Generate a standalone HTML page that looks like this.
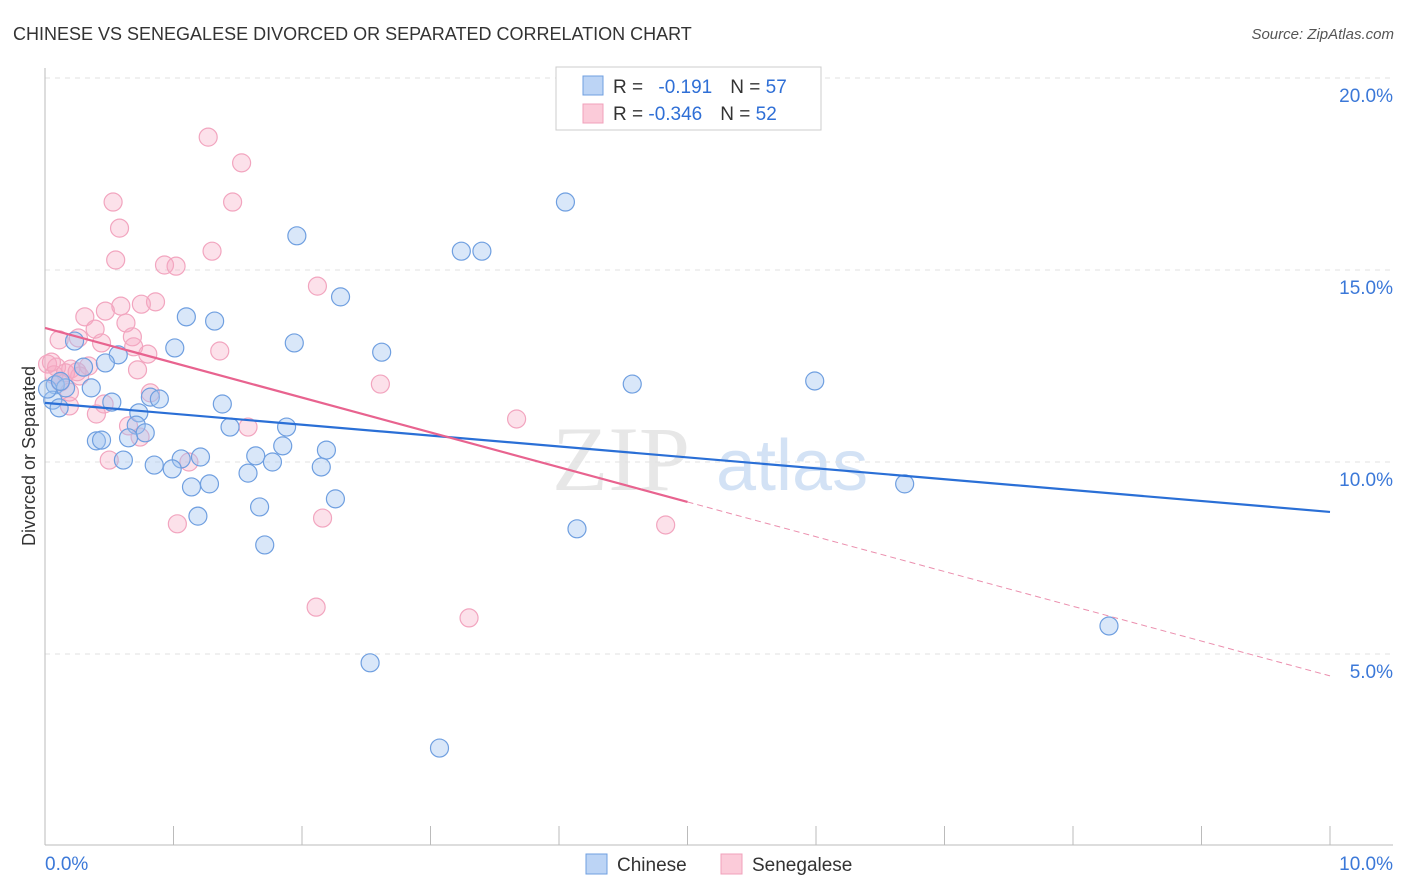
<!DOCTYPE html>
<html><head><meta charset="utf-8"><style>
body{margin:0;background:#fff;font-family:"Liberation Sans",sans-serif;}
svg{display:block}
</style></head><body>
<svg id="c" width="1406" height="892">
<text x="13" y="40" font-size="18" fill="#333">CHINESE VS SENEGALESE DIVORCED OR SEPARATED CORRELATION CHART</text>
<text x="1394" y="39" font-size="15" fill="#555" font-style="italic" text-anchor="end">Source: ZipAtlas.com</text>
<text x="35" y="456" font-size="18" fill="#333" text-anchor="middle" transform="rotate(-90 35 456)">Divorced or Separated</text>
<g><text x="552" y="490" font-size="92" fill="#d8d8d8" font-family="Liberation Serif,serif" opacity="0.6">ZIP</text><text x="716" y="490" font-size="72" fill="#b7d0ef" opacity="0.6">atlas</text></g>
<g id="grid"></g><g id="axes"></g><g id="pts"></g><g id="trend"></g>
<g>
<rect x="556" y="67" width="265" height="63" fill="#fff" stroke="#ccc"/>
<rect x="583" y="76" width="20" height="19" fill="#bcd4f5" stroke="#6f9fe0"/>
<rect x="583" y="104" width="20" height="19" fill="#fbcbd9" stroke="#f0a0bb"/>
<text x="613" y="93" font-size="19" fill="#333">R = <tspan fill="#2f6fd6" dx="10">-0.191</tspan><tspan fill="#333" dx="18">N = </tspan><tspan fill="#2f6fd6">57</tspan></text>
<text x="613" y="120" font-size="19" fill="#333">R = <tspan fill="#2f6fd6">-0.346</tspan><tspan fill="#333" dx="18">N = </tspan><tspan fill="#2f6fd6">52</tspan></text>
</g>
<g>
<rect x="586" y="854" width="21" height="20" fill="#bcd4f5" stroke="#6f9fe0"/>
<text x="617" y="871" font-size="19" fill="#333">Chinese</text>
<rect x="721" y="854" width="21" height="20" fill="#fbcbd9" stroke="#f0a0bb"/>
<text x="752" y="871" font-size="19" fill="#333">Senegalese</text>
</g>
</svg>
<script>
const xTicks=[0,1,2,3,4,5,6,7,8,9,10];
const yTicks=[5,10,15,20];
const yTickLabels=["5.0%","10.0%","15.0%","20.0%"];
const chineseX=[4.05,1.96,3.24,3.40,2.30,1.10,1.32,1.94,1.01,2.62,0.57,0.23,0.47,0.30,4.57,5.99,0.08,0.16,0.36,0.06,0.52,0.82,0.89,1.38,0.11,0.73,1.44,1.88,0.71,0.78,0.65,0.40,0.44,1.85,2.19,0.61,1.21,1.06,0.85,0.99,1.64,1.77,2.15,1.58,1.28,1.14,2.26,1.19,1.67,4.14,1.71,6.69,8.28,2.53,3.07,0.02,0.12];
const chineseY=[16.77,15.89,15.49,15.49,14.30,13.78,13.67,13.10,12.97,12.86,12.79,13.15,12.58,12.47,12.03,12.11,12.01,11.93,11.93,11.61,11.56,11.69,11.64,11.51,11.41,11.28,10.91,10.91,10.96,10.76,10.63,10.55,10.57,10.42,10.31,10.05,10.13,10.08,9.92,9.82,10.16,10.00,9.87,9.71,9.43,9.35,9.04,8.59,8.83,8.26,7.84,9.43,5.73,4.77,2.55,11.9,12.1];
const senegaleseX=[1.27,1.53,0.53,1.46,0.58,1.30,0.55,0.93,1.02,2.12,0.86,0.75,0.59,0.47,0.31,0.63,0.39,0.11,0.68,0.26,0.44,0.69,1.36,0.80,0.02,0.09,0.20,0.34,0.72,0.27,0.12,2.61,0.19,0.82,0.46,0.19,0.40,3.67,0.65,1.58,0.74,1.12,0.50,2.16,1.03,4.83,2.11,3.30,0.07,0.16,0.05,0.25];
const senegaleseY=[18.46,17.79,16.77,16.77,16.09,15.49,15.26,15.13,15.10,14.58,14.17,14.11,14.06,13.93,13.78,13.62,13.46,13.18,13.26,13.23,13.10,13.00,12.89,12.81,12.55,12.47,12.42,12.50,12.40,12.24,12.08,12.03,11.82,11.80,11.51,11.46,11.25,11.12,10.94,10.91,10.65,10.00,10.05,8.54,8.39,8.36,6.22,5.94,12.27,12.32,12.6,12.35];
const chineseTrend=[11.54,-0.284];
const senegaleseTrend=[13.49,-0.906];
const NS="http://www.w3.org/2000/svg";
const X=v=>45+v*128.5, Y=v=>846-v*38.4;
function mk(tag,attrs,parent){const e=document.createElementNS(NS,tag);for(const k in attrs)e.setAttribute(k,attrs[k]);document.getElementById(parent).appendChild(e);return e;}
yTicks.forEach((t,i)=>{
 const g=mk('line',{x1:45,x2:1393,y1:Y(t),y2:Y(t),stroke:'#e2e2e2','stroke-dasharray':'5,5'},'grid');
 
 
 const l=mk('text',{x:1393,y:Y(t)+24,'font-size':19,fill:'#3b78d8','text-anchor':'end'},'grid');
 l.textContent=yTickLabels[i];
 
 
});
const ax=mk('line',{x1:45,x2:1393,y1:845,y2:845,stroke:'#bbb'},'axes');


const ay=mk('line',{x1:45,x2:45,y1:68,y2:845,stroke:'#bbb'},'axes');


xTicks.forEach(t=>{
 const tk=mk('line',{x1:X(t),x2:X(t),y1:826,y2:845,stroke:'#bbb'},'axes');
 
 
});
const xl0=mk('text',{x:45,y:870,'font-size':19,fill:'#3b78d8'},'axes');xl0.textContent=xTicks[0].toFixed(1)+'%';


const xl1=mk('text',{x:1393,y:870,'font-size':19,fill:'#3b78d8','text-anchor':'end'},'axes');xl1.textContent=xTicks[xTicks.length-1].toFixed(1)+'%';


senegaleseX.forEach((x,i)=>{
 const c=mk('circle',{cx:X(x),cy:Y(senegaleseY[i]),r:9,fill:'rgba(246,170,195,0.35)',stroke:'#f2a5bf','stroke-width':1.2},'pts');
 
 
});
chineseX.forEach((x,i)=>{
 const c=mk('circle',{cx:X(x),cy:Y(chineseY[i]),r:9,fill:'rgba(160,195,240,0.4)',stroke:'#6f9fe0','stroke-width':1.2},'pts');
 
 
});
const tb=mk('line',{x1:X(0),y1:Y(chineseTrend[0]),x2:X(10),y2:Y(chineseTrend[0]+10*chineseTrend[1]),stroke:'#2a6fd6','stroke-width':2.2},'trend');


const tp=mk('line',{x1:X(0),y1:Y(senegaleseTrend[0]),x2:X(5),y2:Y(senegaleseTrend[0]+5*senegaleseTrend[1]),stroke:'#e8638f','stroke-width':2.2},'trend');


const td=mk('line',{x1:X(5),y1:Y(senegaleseTrend[0]+5*senegaleseTrend[1]),x2:X(10),y2:Y(senegaleseTrend[0]+10*senegaleseTrend[1]),stroke:'#eb8fae','stroke-width':1,'stroke-dasharray':'6,4'},'trend');


</script>
</body></html>
